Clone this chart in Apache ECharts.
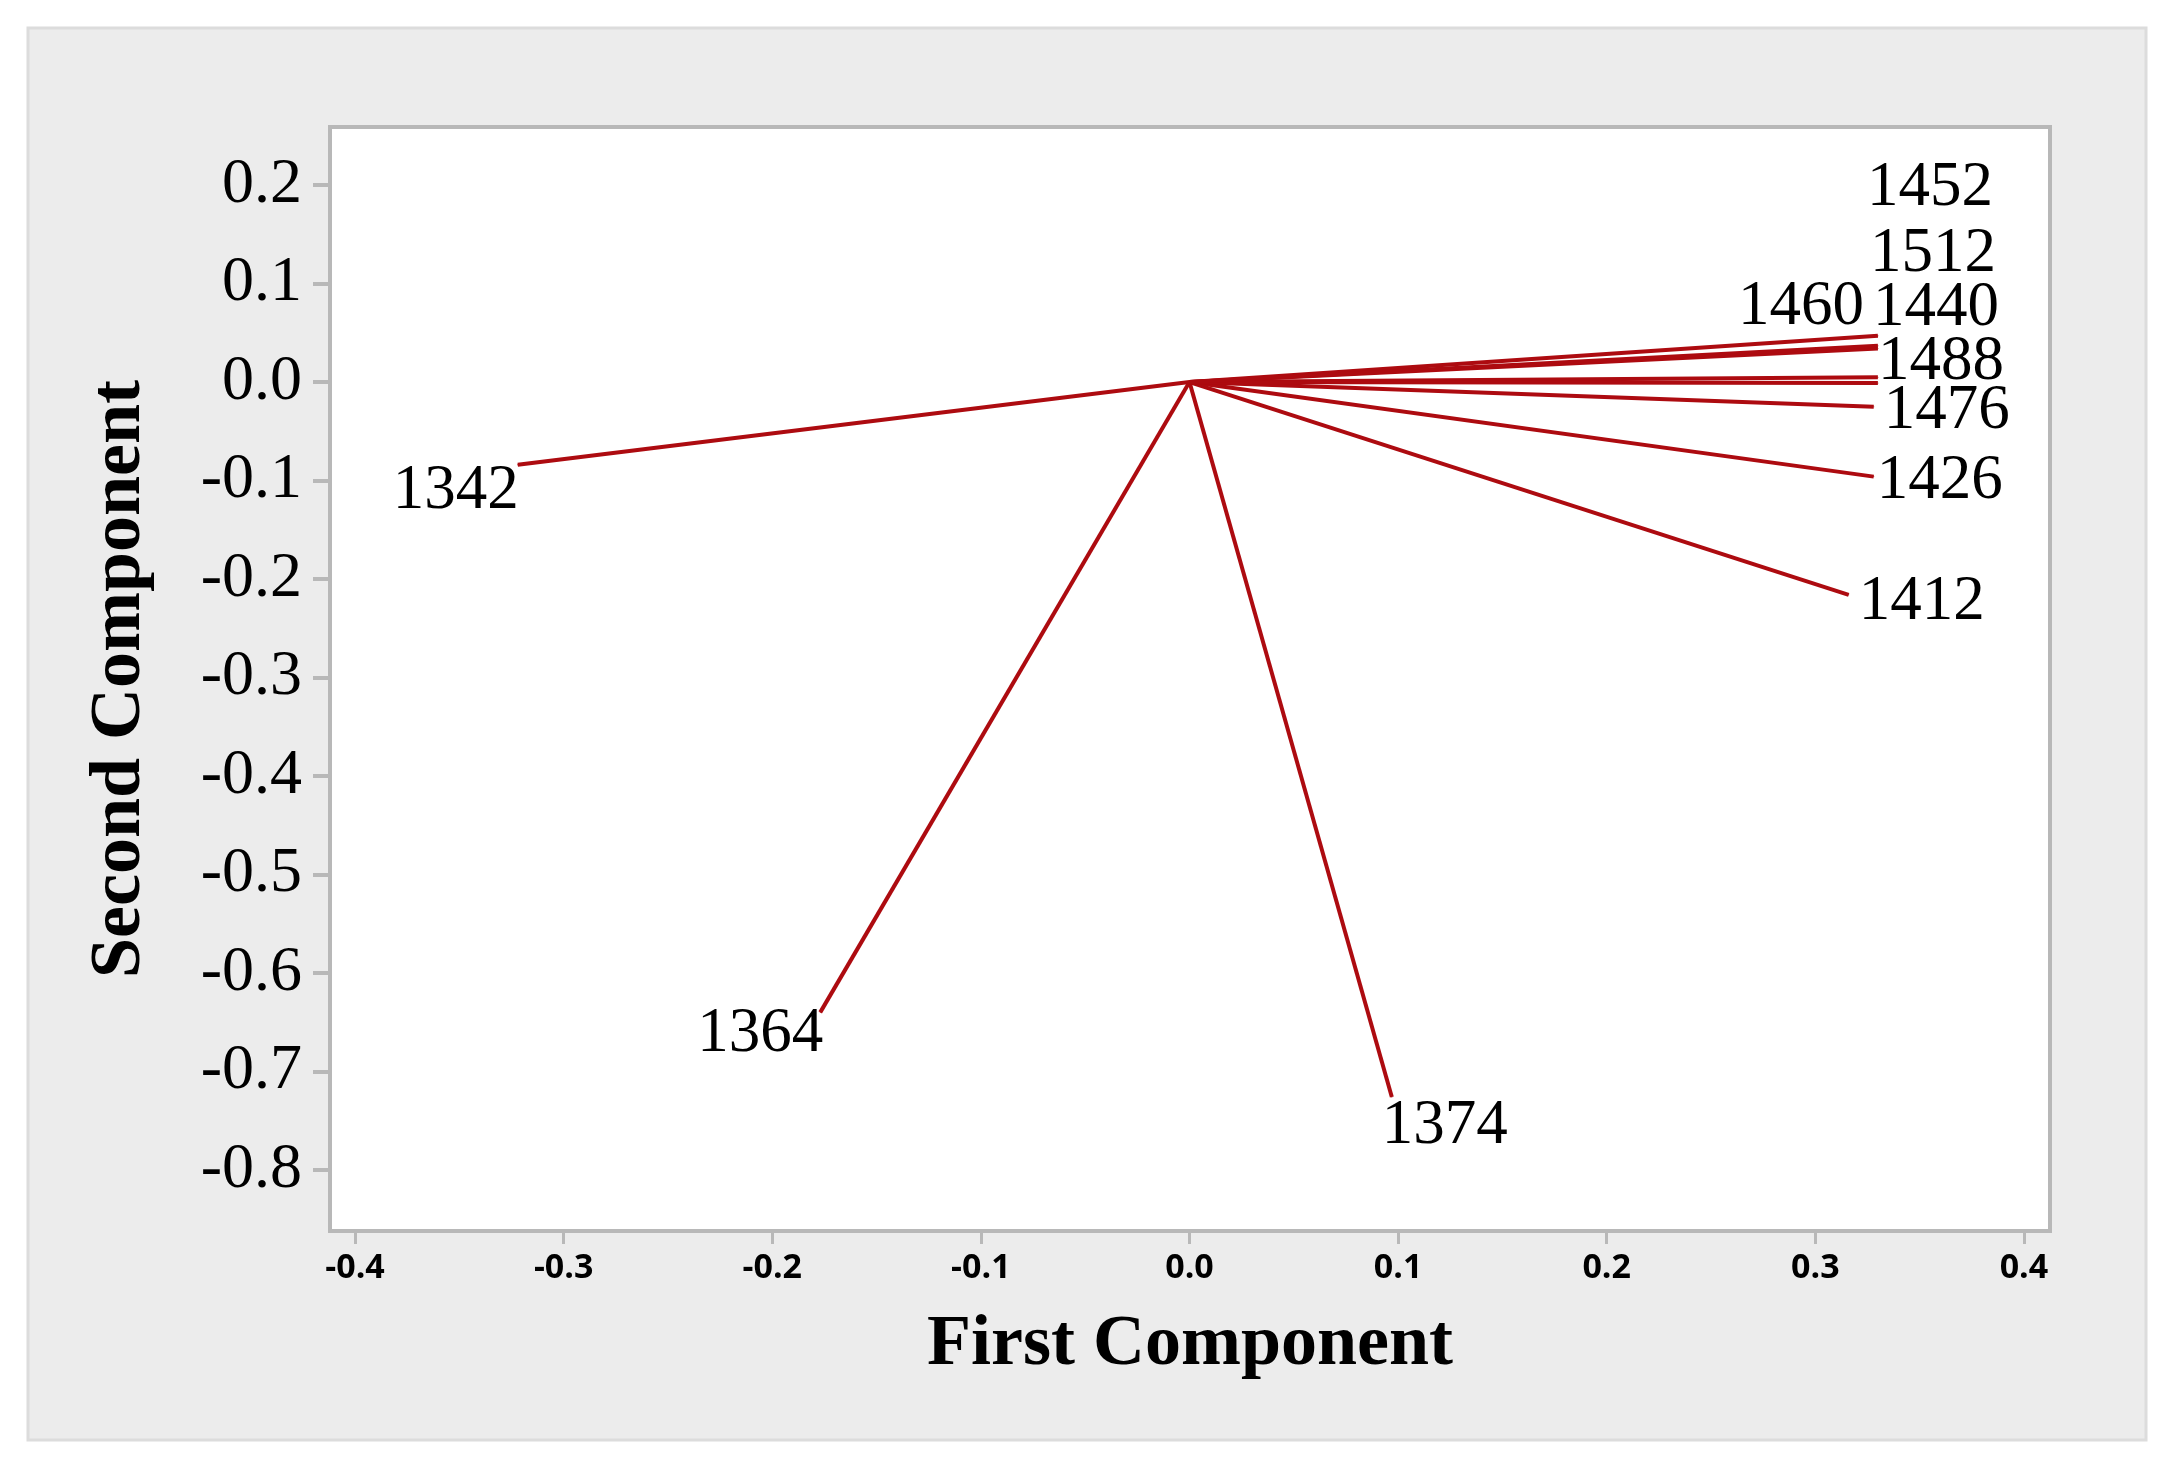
<!DOCTYPE html>
<html>
<head>
<meta charset="utf-8">
<title>Loading Plot</title>
<script src="https://cdn.jsdelivr.net/npm/echarts@6/dist/echarts.min.js"></script>
<style>
  html, body { margin: 0; padding: 0; background: #fff; }
  #chart { width: 2174px; height: 1463px; }
</style>
</head>
<body>
<div id="chart"></div>
<script>
// loading vectors
const variables = ['1342', '1364', '1374', '1412', '1426', '1440', '1452', '1460', '1476', '1488', '1512'];
const firstComponent = [-0.322, -0.177, 0.097, 0.316, 0.328, 0.330, 0.330, 0.330, 0.328, 0.330, 0.330];
const secondComponent = [-0.084, -0.640, -0.726, -0.216, -0.096, 0.034, 0.047, 0.005, -0.025, -0.001, 0.037];

const xTicks = [-0.4, -0.3, -0.2, -0.1, 0.0, 0.1, 0.2, 0.3, 0.4];
const yTicks = [0.2, 0.1, 0.0, -0.1, -0.2, -0.3, -0.4, -0.5, -0.6, -0.7, -0.8];

// where each label sits relative to its line end (align, dx, dy) - Minitab pushes crowded ones apart
const labelPlacement = {
  '1342': ['right', 1, 27],
  '1364': ['right', 3, 22],
  '1374': ['left', -10, 29],
  '1412': ['left', 10, 8],
  '1426': ['left', 3, 5],
  '1440': ['left', -5, -40],
  '1452': ['left', -11, -147],
  '1460': ['right', -14, -70],
  '1476': ['left', 10, 5],
  '1488': ['left', 0, -21],
  '1512': ['left', -8, -91]
};

const lineColor = '#ad0b10';
const frameColor = '#b8b8b8';

const series = variables.map(function (name, i) {
  const p = labelPlacement[name];
  return {
    name: name,
    type: 'line',
    symbol: 'circle',
    symbolSize: 1,
    silent: true,
    animation: false,
    clip: false,
    itemStyle: { color: lineColor },
    lineStyle: { color: lineColor, width: 4 },
    data: [
      { value: [0, 0], label: { show: false } },
      {
        value: [firstComponent[i], secondComponent[i]],
        label: {
          show: true,
          formatter: name,
          position: 'inside',
          align: p[0],
          verticalAlign: 'middle',
          offset: [p[1], p[2]],
          color: '#000',
          fontFamily: 'Liberation Serif',
          fontSize: 63
        }
      }
    ]
  };
});

const chart = echarts.init(document.getElementById('chart'));
chart.setOption({
  backgroundColor: '#ffffff',
  animation: false,
  graphic: [
    {
      type: 'rect',
      z: -1,
      shape: { x: 28, y: 28, width: 2118, height: 1412 },
      style: { fill: '#ececec', stroke: '#dcdcdc', lineWidth: 3 }
    }
  ],
  grid: {
    left: 330,
    top: 127,
    width: 1720,
    height: 1104,
    show: true,
    backgroundColor: '#ffffff',
    borderColor: frameColor,
    borderWidth: 4
  },
  xAxis: {
    type: 'value',
    min: -0.412,
    max: 0.4125,
    name: 'First Component',
    nameLocation: 'middle',
    nameGap: 78,
    nameTextStyle: {
      color: '#000',
      fontFamily: 'Liberation Serif',
      fontWeight: 'bold',
      fontSize: 72
    },
    axisLine: { show: false, onZero: false },
    splitLine: { show: false },
    axisTick: {
      show: true,
      length: 13,
      customValues: xTicks,
      lineStyle: { color: frameColor, width: 3 }
    },
    axisLabel: {
      customValues: xTicks,
      margin: 20,
      color: '#000',
      fontFamily: 'Open Sans',
      fontWeight: 'bold',
      fontSize: 34,
      formatter: function (v) { return v.toFixed(1); }
    }
  },
  yAxis: {
    type: 'value',
    min: -0.862,
    max: 0.259,
    name: 'Second Component',
    nameLocation: 'middle',
    nameGap: 174,
    nameTextStyle: {
      color: '#000',
      fontFamily: 'Liberation Serif',
      fontWeight: 'bold',
      fontSize: 72
    },
    axisLine: { show: false, onZero: false },
    splitLine: { show: false },
    axisTick: {
      show: true,
      length: 17,
      customValues: yTicks,
      lineStyle: { color: frameColor, width: 4 }
    },
    axisLabel: {
      customValues: yTicks,
      margin: 28,
      color: '#000',
      fontFamily: 'Liberation Serif',
      fontSize: 64,
      formatter: function (v) { return v.toFixed(1); }
    }
  },
  series: series
});
</script>
</body>
</html>
